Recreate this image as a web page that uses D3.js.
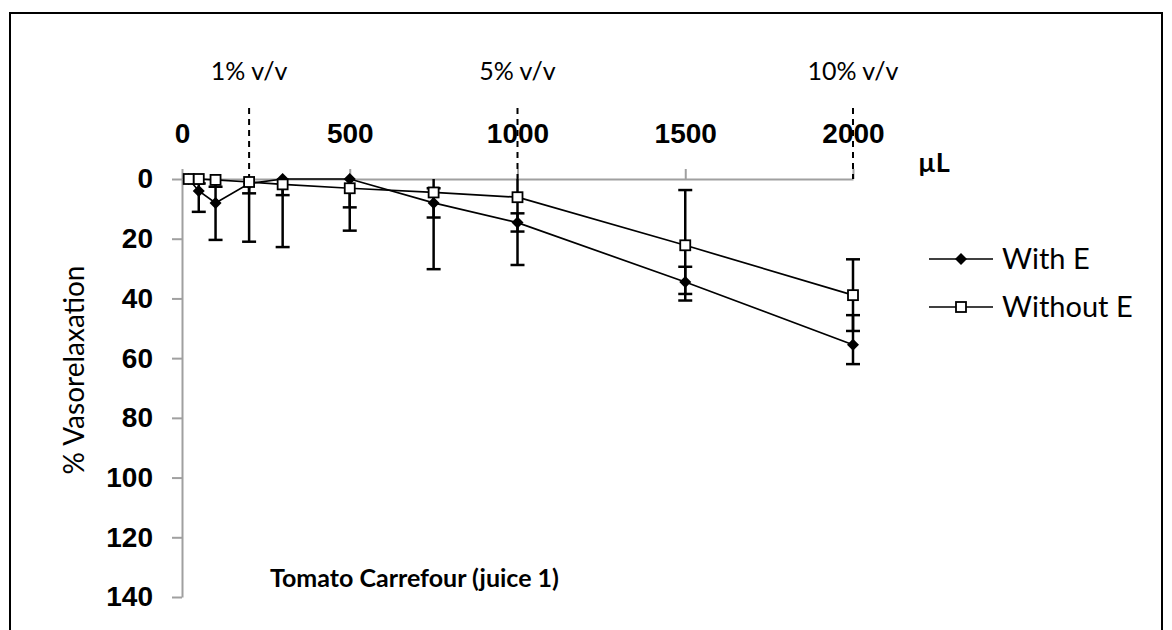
<!DOCTYPE html>
<html>
<head>
<meta charset="utf-8">
<script src="https://cdn.jsdelivr.net/npm/d3@7"></script>
<style>
  body { margin: 0; background: #fff; }
  svg { font-family: Lato, "Open Sans", sans-serif; }
</style>
</head>
<body>
<div id="root"></div>
<script>
const width = 1172;
const height = 630;

// Data (% vasorelaxation, plotted downward)

const doses = [20, 50, 100, 200, 300, 500, 750, 1000, 1500, 2000];

const withE = [0, 4, 8, 1.5, 0, 0, 8, 14.6, 34.5, 55.5];
const withELow = [0, 7, 12.4, 3.3, 5.4, 9.5, 4.9, 3.1, 5.1, 9.9];
const withEHigh = [0, 7, 12.4, 3.3, 5.4, 9.5, 4.9, 3, 4, 6.5];

const withoutE = [0, 0, 0.3, 1, 1.8, 3.1, 4.5, 6.1, 22.2, 38.9];
const withoutELow = [0, 1.5, 2.3, 20, 21, 14.2, 25.7, 22.7, 18.5, 12];
const withoutEHigh = [0, 1.5, 2.3, 20, 21, 14.2, 25.7, 22.7, 18.5, 12];

const xTicks = [0, 500, 1000, 1500, 2000];
const yTicks = [0, 20, 40, 60, 80, 100, 120, 140];

const markerLines = [200, 1000, 2000];
const markerLabels = ['1% v/v', '5% v/v', '10% v/v'];

const seriesNames = ['With E', 'Without E'];

// Canvas

const svg = d3
  .select('#root')
  .append('svg')
  .attr('width', width)
  .attr('height', height);

// Frame
svg
  .append('rect')
  .attr('x', 10)
  .attr('y', 13)
  .attr('width', 1152)
  .attr('height', 640)
  .attr('fill', 'none')
  .attr('stroke', '#000')
  .attr('stroke-width', 2);

const x = d3.scaleLinear().domain([0, 2000]).range([182, 853]);
const y = d3.scaleLinear().domain([0, 140]).range([179, 597]);

const axisColor = '#a0a0a0';

// Axes

const xAxis = svg
  .append('g')
  .attr('transform', `translate(0,${y(0)})`)
  .call(
    d3
      .axisTop(x)
      .tickValues(xTicks)
      .tickFormat(d3.format('d'))
      .tickSize(10)
      .tickSizeOuter(0)
      .tickPadding(26)
  );

const yAxis = svg
  .append('g')
  .attr('transform', `translate(${x(0)},0)`)
  .call(
    d3.axisLeft(y).tickValues(yTicks).tickSize(10).tickSizeOuter(0).tickPadding(19)
  );

[xAxis, yAxis].forEach((g) => {
  g.selectAll('path, line').attr('stroke', axisColor).attr('stroke-width', 2);
  g.selectAll('text')
    .attr('fill', '#000')
    .style('font-size', '28px')
    .style('font-weight', 'bold');
});

// Concentration markers

svg
  .append('g')
  .selectAll('line')
  .data(markerLines)
  .join('line')
  .attr('x1', (d) => x(d))
  .attr('x2', (d) => x(d))
  .attr('y1', 108)
  .attr('y2', y(0))
  .attr('stroke', '#000')
  .attr('stroke-width', 2)
  .attr('stroke-dasharray', '6,5');

svg
  .append('g')
  .selectAll('text')
  .data(markerLabels)
  .join('text')
  .attr('x', (d, i) => x(markerLines[i]))
  .attr('y', 80)
  .attr('text-anchor', 'middle')
  .style('font-size', '25px')
  .text((d) => d);

// Axis titles

svg
  .append('text')
  .attr('x', 918)
  .attr('y', 172)
  .style('font-size', '27px')
  .style('font-weight', 'bold')
  .text('µL');

svg
  .append('text')
  .attr('transform', 'translate(84,370) rotate(-90)')
  .attr('text-anchor', 'middle')
  .style('font-size', '28px')
  .text('% Vasorelaxation');

svg
  .append('text')
  .attr('x', 270)
  .attr('y', 587)
  .style('font-size', '25px')
  .style('font-weight', 'bold')
  .text('Tomato Carrefour (juice 1)');

// Series

const series = [
  { values: withE, low: withELow, high: withEHigh, marker: 'diamond' },
  { values: withoutE, low: withoutELow, high: withoutEHigh, marker: 'square' },
];

const line = d3
  .line()
  .x((d) => x(d[0]))
  .y((d) => y(d[1]));

function drawMarker(g, type) {
  if (type === 'diamond') {
    g.append('path')
      .attr('d', 'M0,-6L6,0L0,6L-6,0Z')
      .attr('fill', '#000');
  } else {
    g.append('rect')
      .attr('x', -5)
      .attr('y', -5)
      .attr('width', 10)
      .attr('height', 10)
      .attr('fill', '#fff')
      .attr('stroke', '#000')
      .attr('stroke-width', 1.8);
  }
}

const capHalf = 7;

series.forEach((s) => {
  const pts = doses.map((d, i) => [d, s.values[i]]);
  const g = svg.append('g');

  // error bars, clipped at the 0 axis
  pts.forEach(([d, v], i) => {
    const top = v - s.low[i];
    const bottom = v + s.high[i];
    if (s.low[i] === 0 && s.high[i] === 0) return;
    const yTop = y(Math.max(0, top));
    const yBot = y(bottom);
    g.append('line')
      .attr('x1', x(d))
      .attr('x2', x(d))
      .attr('y1', yTop)
      .attr('y2', yBot)
      .attr('stroke', '#000')
      .attr('stroke-width', 2.5);
    const caps = [yBot];
    if (top >= 0) caps.push(yTop);
    caps.forEach((cy) => {
      g.append('line')
        .attr('x1', x(d) - capHalf)
        .attr('x2', x(d) + capHalf)
        .attr('y1', cy)
        .attr('y2', cy)
        .attr('stroke', '#000')
        .attr('stroke-width', 2.5);
    });
  });

  g.append('path')
    .attr('d', line(pts))
    .attr('fill', 'none')
    .attr('stroke', '#000')
    .attr('stroke-width', 1.7);

  pts.forEach(([d, v]) => {
    const m = g.append('g').attr('transform', `translate(${x(d)},${y(v)})`);
    drawMarker(m, s.marker);
  });
});

// Legend

const legend = svg.append('g').attr('transform', 'translate(929,259)');

seriesNames.forEach((name, i) => {
  const row = legend.append('g').attr('transform', `translate(0,${i * 48})`);
  row
    .append('line')
    .attr('x1', 0)
    .attr('x2', 64)
    .attr('stroke', '#000')
    .attr('stroke-width', 1.7);
  drawMarker(row.append('g').attr('transform', 'translate(32,0)'), series[i].marker);
  row
    .append('text')
    .attr('x', 73)
    .attr('dy', '0.35em')
    .style('font-size', '29px')
    .text(name);
});
</script>
</body>
</html>
